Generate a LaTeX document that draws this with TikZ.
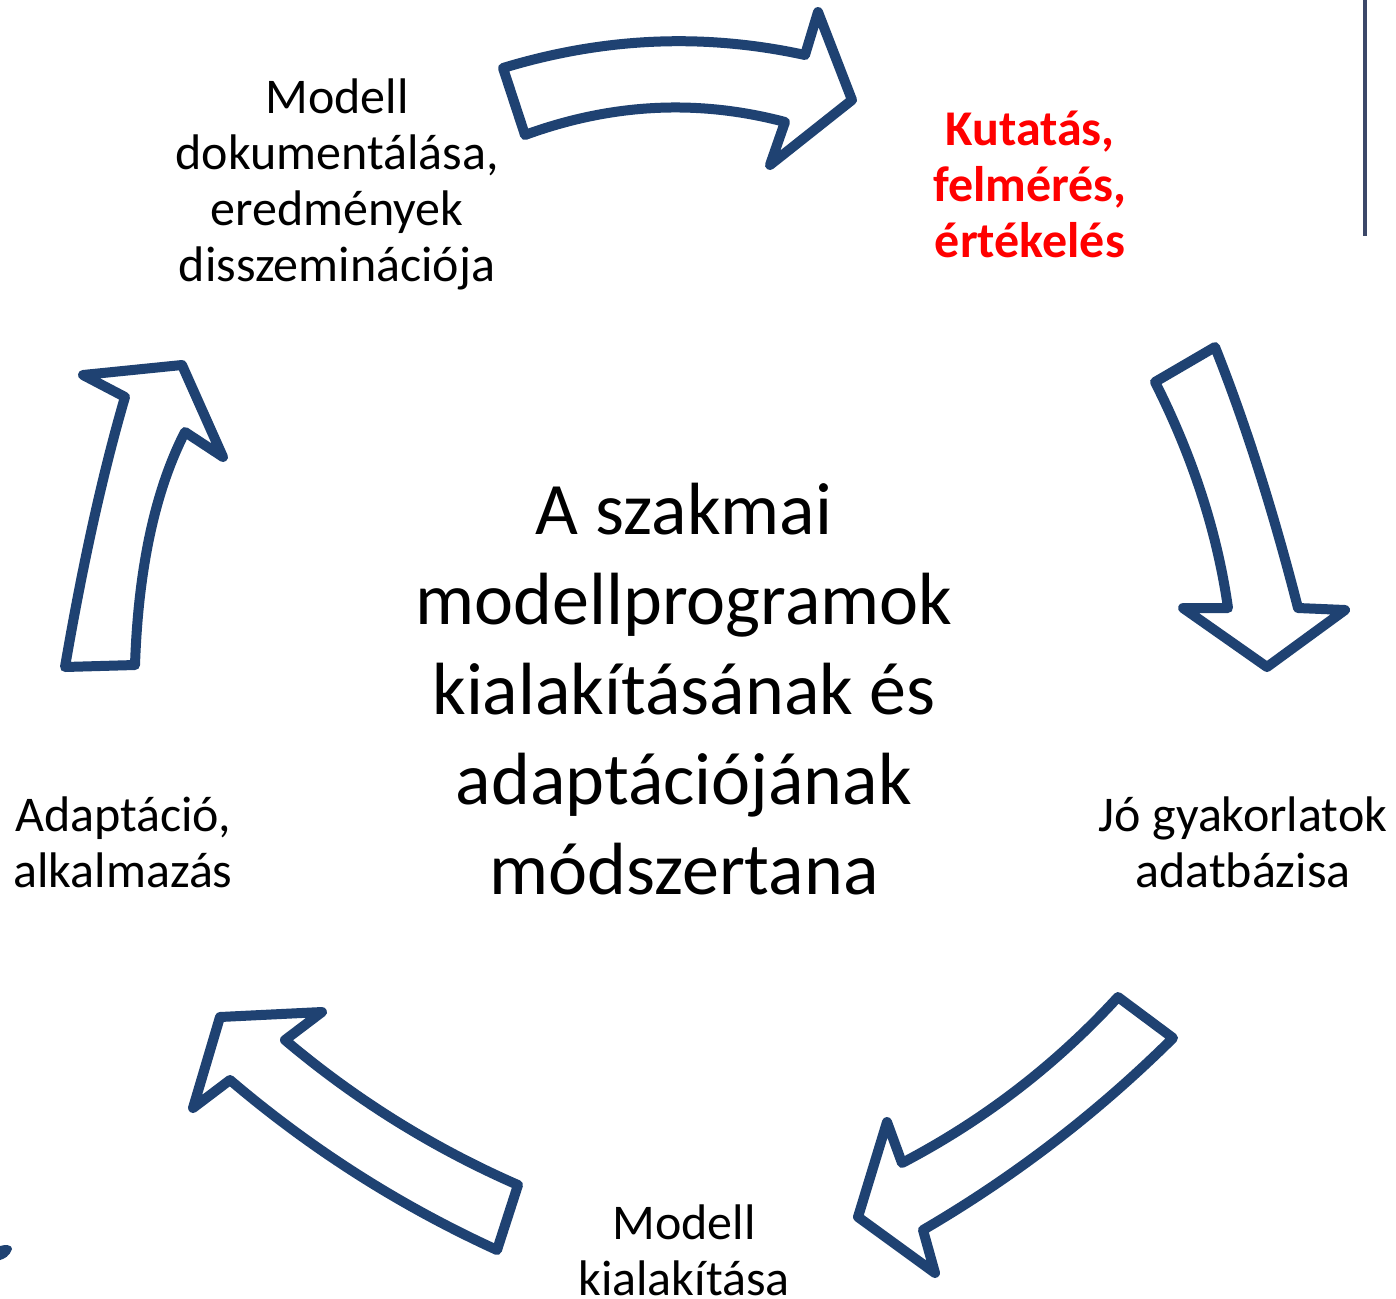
\documentclass[tikz,border=0pt]{standalone}
\usepackage{fontspec}
\setmainfont{Carlito}
\definecolor{arrowblue}{RGB}{31,66,114}
\definecolor{linegray}{RGB}{60,72,105}
\definecolor{kred}{RGB}{255,0,0}
\begin{document}
\begin{tikzpicture}[x=1pt,y=-1pt,
  cyclearrow/.style={draw=arrowblue,line width=10pt,line join=round,fill=white},
  lbl/.style={align=center,inner sep=0pt,font=\fontsize{50}{56}\selectfont},
  redlbl/.style={lbl,text=kred,font=\fontsize{50}{56}\selectfont\bfseries},
  centerlbl/.style={align=center,inner sep=0pt,font=\fontsize{74}{90}\selectfont}]
\useasboundingbox (0,0) rectangle (1396,1298);
% right-edge line
\draw[linegray,line width=3.5pt] (1365,0) -- (1365,236);
% bottom-left fragment
\fill[arrowblue] (0,1246) .. controls (6,1244) and (12,1245) .. (12,1249) .. controls (10,1256) and (4,1259) .. (0,1260) -- cycle;
% top arrow
\draw[cyclearrow] (503,68) .. controls (604,37.3) and (704,33) .. (805,55)
  -- (818,12) -- (852,100) -- (770,165) -- (785,122)
  .. controls (698.3,99) and (611.7,103.3) .. (525,135) -- cycle;
% right arrow
\draw[cyclearrow] (1215,347) .. controls (1245,422.3) and (1272.7,509.3) .. (1298,608)
  -- (1345,610) -- (1267,667) -- (1183,608) -- (1228,608)
  .. controls (1217.3,532.7) and (1193,457.3) .. (1155,382) -- cycle;
% bottom-right arrow
\draw[cyclearrow] (1118,997) -- (1173,1038)
  .. controls (1097.7,1112.7) and (1014.3,1176.7) .. (923,1230)
  -- (935,1273) -- (858,1217) -- (887,1122) -- (902,1163)
  .. controls (983.7,1120.3) and (1055.7,1065) .. (1118,997) -- cycle;
% bottom-left arrow
\draw[cyclearrow] (497,1250) -- (518,1185)
  .. controls (433.3,1148) and (355.7,1099.7) .. (285,1040)
  -- (322,1012) -- (220,1017) -- (193,1108) -- (230,1080)
  .. controls (311,1149) and (400,1205.7) .. (497,1250) -- cycle;
% left arrow
\draw[cyclearrow] (65,667) -- (135,665)
  .. controls (138.3,568.3) and (155,490.7) .. (185,432)
  -- (223,457) -- (182,365) -- (83,375) -- (125,397)
  .. controls (103,472.3) and (83,562.3) .. (65,667) -- cycle;
% labels
\node[lbl] (doc) at (337,184) {Modell\\dokumentálása,\\eredmények\\disszeminációja};
\node[redlbl] (kut) at (1030,184) {Kutatás,\\felmérés,\\értékelés};
\node[lbl] (jo) at (1243,842) {Jó gyakorlatok\\adatbázisa};
\node[lbl] (adapt) at (123,842) {Adaptáció,\\alkalmazás};
\node[lbl] (kial) at (684,1250) {Modell\\kialakítása};
\node[centerlbl] (center) at (684,689) {A szakmai\\modellprogramok\\kialakításának és\\adaptációjának\\módszertana};
\end{tikzpicture}
\end{document}
